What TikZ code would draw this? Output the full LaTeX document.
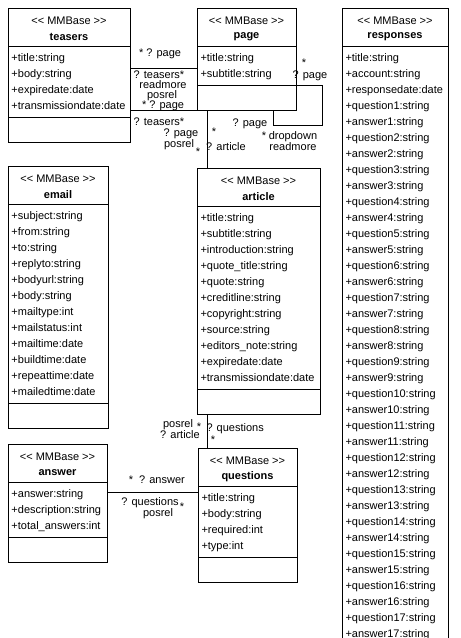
\documentclass[tikz,border=0pt]{standalone}
\usepackage{fontspec}
\setmainfont{Liberation Sans}
\usepackage{tikz}
\usetikzlibrary{positioning}

\newcommand{\umlsize}{\fontsize{11}{13}\selectfont}
\tikzset{classbox/.style={draw, inner sep=0pt, outer sep=0pt, anchor=north west}}
\tikzset{stereo/.style={inner sep=0pt}}
\tikzset{classname/.style={inner sep=0pt, font=\umlsize\bfseries}}
\tikzset{attr/.style={inner sep=0pt, anchor=west, text height=8pt, text depth=2pt}}
\tikzset{role/.style={inner sep=0pt, text height=8pt, text depth=2pt}}

% #1 name, #2 left, #3 top, #4 width, #5 number of fields, #6 fields
\newcommand{\umlclass}[6]{%
  \node[classbox, minimum width=#4, minimum height={70+16*#5}] (#1) at (#2,#3) {};
  \draw (#1.north west) ++(0,38) -- ++(#4,0);
  \draw (#1.north west) ++(0,{45+16*#5}) -- ++(#4,0);
  \node[stereo] (#1-st) at ([yshift=-13]#1.north) {<{}< MMBase >{}>};
  \node[classname] (#1-nm) at ([yshift=-29]#1.north) {#1};
  \foreach \field [count=\i from 0] in {#6}
    \node[attr] (#1-a\i) at ([xshift=3,yshift={-50-16*\i}]#1.north west) {\field};
}

\begin{document}
\begin{tikzpicture}[x=1pt, y=-1pt, line width=1pt, font=\umlsize]
\useasboundingbox (0,0) rectangle (461,638);
\umlclass{teasers}{8}{8}{122}{4}{+title:string,+body:string,+expiredate:date,+transmissiondate:date}
\umlclass{page}{197}{8}{99}{2}{+title:string,+subtitle:string}
\umlclass{responses}{342}{8}{106}{37}{+title:string,+account:string,+responsedate:date,
  +question1:string,+answer1:string,+question2:string,+answer2:string,
  +question3:string,+answer3:string,+question4:string,+answer4:string,
  +question5:string,+answer5:string,+question6:string,+answer6:string,
  +question7:string,+answer7:string,+question8:string,+answer8:string,
  +question9:string,+answer9:string,+question10:string,+answer10:string,
  +question11:string,+answer11:string,+question12:string,+answer12:string,
  +question13:string,+answer13:string,+question14:string,+answer14:string,
  +question15:string,+answer15:string,+question16:string,+answer16:string,
  +question17:string,+answer17:string}
\umlclass{email}{8}{166}{100}{12}{+subject:string,+from:string,+to:string,+replyto:string,+bodyurl:string,+body:string,+mailtype:int,+mailstatus:int,+mailtime:date,+buildtime:date,+repeattime:date,+mailedtime:date}
\umlclass{article}{197}{168}{123}{11}{+title:string,+subtitle:string,+introduction:string,+quote\_title:string,+quote:string,+creditline:string,+copyright:string,+source:string,+editors\_note:string,+expiredate:date,+transmissiondate:date}
\umlclass{answer}{8}{444}{99}{3}{+answer:string,+description:string,+total\_answers:int}
\umlclass{questions}{198}{448}{99}{4}{+title:string,+body:string,+required:int,+type:int}

% relations
\draw ([yshift=-60]teasers.north east) -- ([yshift=-60]page.north west);
\draw (teasers.east |- page.south) -- (page.south west);
\draw ([xshift=10]page.south west) -- ([xshift=10]article.north west);
\draw ([yshift=-77]page.north east) -- ++(26,0) |- ([xshift=76,yshift=-15]page.south west) -- ([xshift=76]page.south west);
\draw ([xshift=10]article.south west) -- ([xshift=9]questions.north west);
\draw ([yshift=-48]answer.north east) -- ([yshift=-44]questions.north west);

% teasers -- page
\node[role] (tp-page1) at (160,53) {* ? page};
\node[role] (tp-teasers1) at (159,75) {? teasers*};
\node[role] (tp-readmore) at (163,85) {readmore};
\node[role] (tp-posrel1) at (162,95) {posrel};
\node[role] (tp-page2) at (163,105) {* ? page};
\node[role] (tp-teasers2) at (159,122) {? teasers*};
\node[role] (tp-page3) at (181,133) {? page};
\node[role] (tp-posrel2) at (179,144) {posrel};
\node[role] (tp-star) at (198,152) {*};
% page -- article
\node[role] (pa-star) at (214,132) {*};
\node[role] (pa-article) at (226,147) {? article};
% page -- page
\node[role] (pp-page1) at (250,123) {? page};
\node[role] (pp-star1) at (264,136) {*};
\node[role] (pp-role1) at (293,136) {dropdown};
\node[role] (pp-role2) at (293,147) {readmore};
\node[role] (pp-star2) at (304,63) {*};
\node[role] (pp-page2) at (310,75) {? page};
% article -- questions
\node[role] (aq-posrel) at (178,424) {posrel};
\node[role] (aq-article) at (180,435) {? article};
\node[role] (aq-star1) at (199,427) {*};
\node[role, anchor=west] (aq-questions) at (206,428) {? questions};
\node[role] (aq-star2) at (213,440) {*};
% answer -- questions
\node[role] (nq-star1) at (131,480) {*};
\node[role] (nq-answer) at (162,480) {? answer};
\node[role] (nq-questions) at (150,502) {? questions};
\node[role] (nq-posrel) at (158,513) {posrel};
\node[role] (nq-star2) at (182,507) {*};
\end{tikzpicture}
\end{document}
